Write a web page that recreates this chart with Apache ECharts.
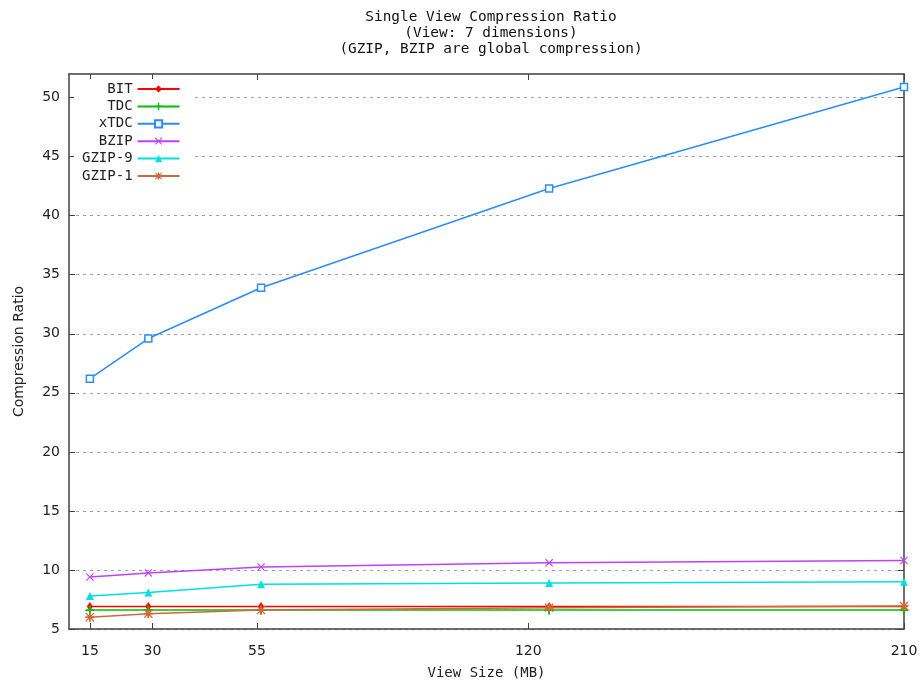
<!DOCTYPE html>
<html>
<head>
<meta charset="utf-8">
<script src="https://cdn.jsdelivr.net/npm/echarts@6/dist/echarts.min.js"></script>
<style>
  html, body { margin: 0; padding: 0; background: #fff; }
  #chart { width: 924px; height: 686px; }
</style>
</head>
<body>
<div id="chart"></div>
<script>
// view sizes (MB) where each series was measured
const viewSizes = [15, 29, 56, 125, 210]
const xTicks = [15, 30, 55, 120, 210]
const yTicks = [5, 10, 15, 20, 25, 30, 35, 40, 45, 50]

const bit = [6.9, 6.9, 6.9, 6.9, 6.9]
const tdc = [6.6, 6.6, 6.6, 6.6, 6.6]
const xtdc = [26.2, 29.6, 33.9, 42.3, 50.9]
const bzip = [9.4, 9.75, 10.25, 10.6, 10.8]
const gzip9 = [7.8, 8.1, 8.8, 8.9, 9.0]
const gzip1 = [6.0, 6.3, 6.6, 6.8, 6.95]

const titleText = 'Single View Compression Ratio\n(View: 7 dimensions)\n(GZIP, BZIP are global compression)'

const MONO = '"DejaVu Sans Mono", "Liberation Mono", monospace'
const SANS = '"DejaVu Sans", sans-serif'

const PLUS = 'path://M4,0H6V4H10V6H6V10H4V6H0V4H4Z'
const CROSS = 'path://M0,1L1,0L5,4L9,0L10,1L6,5L10,9L9,10L5,6L1,10L0,9L4,5Z'
const STAR = PLUS + ' ' + CROSS.replace('path://', '')

function pairs(ys) {
  return viewSizes.map((x, i) => [x, ys[i]])
}

function lineSeries(name, ys, color, symbol, size, empty) {
  return {
    name: name,
    type: 'line',
    data: pairs(ys),
    symbol: symbol,
    symbolSize: size,
    showAllSymbol: true,
    lineStyle: { color: color, width: 1.5 },
    itemStyle: empty
      ? { color: '#fff', borderColor: color, borderWidth: 1.5 }
      : { color: color, borderWidth: 0 }
  }
}

const chart = echarts.init(document.getElementById('chart'))

const tickStyle = { inside: true, length: 6, lineStyle: { color: '#404040', width: 1 } }
const frameLine = { show: true, lineStyle: { color: '#404040', width: 1.5 } }

chart.setOption({
  animation: false,
  backgroundColor: '#fff',
  title: {
    text: titleText,
    left: 486,
    top: 4,
    textAlign: 'center',
    textStyle: {
      fontFamily: MONO,
      fontSize: 14.4,
      fontWeight: 'normal',
      lineHeight: 16,
      color: '#111'
    }
  },
  grid: { left: 69, right: 20, top: 74, bottom: 57 },
  legend: {
    orient: 'vertical',
    align: 'right',
    left: 74,
    top: 79,
    padding: [3, 12, 3, 8],
    backgroundColor: '#fff',
    itemWidth: 42,
    itemHeight: 9,
    itemGap: 3.4,
    textStyle: { fontFamily: MONO, fontSize: 14, color: '#222' },
    data: ['BIT', 'TDC', 'xTDC', 'BZIP', 'GZIP-9', 'GZIP-1']
  },
  xAxis: [
    {
      type: 'value',
      position: 'bottom',
      min: 10,
      max: 210,
      axisLine: frameLine,
      axisTick: Object.assign({ customValues: xTicks }, tickStyle),
      axisLabel: {
        customValues: xTicks,
        margin: 15,
        fontFamily: SANS,
        fontSize: 14,
        color: '#222'
      },
      splitLine: { show: false },
      name: 'View Size (MB)',
      nameLocation: 'middle',
      nameGap: 37,
      nameTextStyle: { fontFamily: MONO, fontSize: 14, color: '#222' }
    },
    {
      type: 'value',
      position: 'top',
      min: 10,
      max: 210,
      axisLine: frameLine,
      axisTick: Object.assign({ customValues: xTicks }, tickStyle),
      axisLabel: { show: false },
      splitLine: { show: false }
    }
  ],
  yAxis: [
    {
      type: 'value',
      position: 'left',
      min: 5,
      max: 52,
      interval: 5,
      axisLine: frameLine,
      axisTick: Object.assign({ customValues: yTicks }, tickStyle),
      axisLabel: {
        customValues: yTicks,
        margin: 9,
        fontFamily: SANS,
        fontSize: 14,
        color: '#222'
      },
      splitLine: {
        show: true,
        lineStyle: { color: '#a0a0a0', type: [3, 4], width: 1 }
      },
      name: 'Compression Ratio',
      nameLocation: 'middle',
      nameGap: 43,
      nameTextStyle: { fontFamily: SANS, fontSize: 14, color: '#222' }
    },
    {
      type: 'value',
      position: 'right',
      min: 5,
      max: 52,
      interval: 5,
      axisLine: frameLine,
      axisTick: Object.assign({ customValues: yTicks }, tickStyle),
      axisLabel: { show: false },
      splitLine: { show: false }
    }
  ],
  series: [
    lineSeries('BIT', bit, '#ff0000', 'diamond', [6, 9]),
    lineSeries('TDC', tdc, '#00c000', PLUS, 9),
    lineSeries('xTDC', xtdc, '#2b8cff', 'rect', 7, true),
    lineSeries('BZIP', bzip, '#c040ff', CROSS, 8),
    lineSeries('GZIP-9', gzip9, '#00e0e0', 'triangle', 8),
    lineSeries('GZIP-1', gzip1, '#d0683c', STAR, 9)
  ]
})
</script>
</body>
</html>
